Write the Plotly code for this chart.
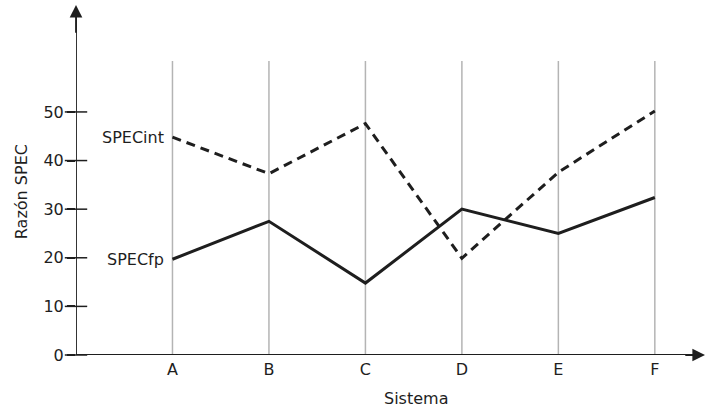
import plotly.graph_objects as go

sistemas = ["A", "B", "C", "D", "E", "F"]
specint = [44.8, 37.3, 47.6, 19.9, 37.6, 50.2]
specfp = [19.7, 27.5, 14.8, 30.0, 25.0, 32.4]
yticks = [0, 10, 20, 30, 40, 50]

xs = list(range(len(sistemas)))
FONT = "'DejaVu Sans', sans-serif"
INK = "#1e1e1e"
FS = 16
X_AXIS_POS = -1  # category-axis value where the vertical axis sits

fig = go.Figure()
fig.add_trace(go.Scatter(x=xs, y=specint, mode="lines",
                         line=dict(color=INK, width=3, dash="9px,6px"),
                         showlegend=False, hoverinfo="skip"))
fig.add_trace(go.Scatter(x=xs, y=specfp, mode="lines",
                         line=dict(color=INK, width=3),
                         showlegend=False, hoverinfo="skip"))
# tick marks crossing the vertical axis, one per y tick value
fig.add_trace(go.Scatter(x=[X_AXIS_POS] * len(yticks), y=yticks, mode="markers",
                         marker=dict(symbol="line-ew", size=16,
                                     line=dict(color=INK, width=1.5)),
                         cliponaxis=False, showlegend=False, hoverinfo="skip"))

# vertical grid lines per system
for xv in xs:
    fig.add_shape(type="line", x0=xv, x1=xv, y0=0, y1=60.5, xref="x", yref="y",
                  line=dict(color="#b4b4b4", width=1.5), layer="below")

# series labels
fig.add_annotation(x=0, y=specint[0], text="SPECint", showarrow=False,
                   xanchor="right", xshift=-6, font=dict(family=FONT, size=FS, color=INK))
fig.add_annotation(x=0, y=specfp[0], text="SPECfp", showarrow=False,
                   xanchor="right", xshift=-6, font=dict(family=FONT, size=FS, color=INK))

# axis arrows
fig.add_annotation(x=X_AXIS_POS, y=72, ax=X_AXIS_POS, ay=66, xref="x", yref="y",
                   axref="x", ayref="y", showarrow=True, arrowhead=2, arrowsize=1.4,
                   arrowwidth=1.8, arrowcolor=INK, text="")
fig.add_annotation(x=5.52, y=0, ax=5.3, ay=0, xref="x", yref="y", axref="x", ayref="y",
                   showarrow=True, arrowhead=2, arrowsize=1.4, arrowwidth=1.8,
                   arrowcolor=INK, text="")

# axis titles
fig.add_annotation(x=2.52, y=0, xref="x", yref="paper", yshift=-43,
                   text="Sistema", showarrow=False, yanchor="middle",
                   font=dict(family=FONT, size=FS, color=INK))
fig.add_annotation(x=0, xref="paper", xshift=-55, xanchor="center", y=33.5, yref="y",
                   yanchor="middle", text="Razón SPEC", textangle=-90, showarrow=False,
                   font=dict(family=FONT, size=FS, color=INK))

fig.update_layout(
    width=707, height=410,
    margin=dict(l=76, r=2, t=5, b=55, autoexpand=False),
    plot_bgcolor="white", paper_bgcolor="white",
    font=dict(family=FONT, size=FS, color=INK),
    xaxis=dict(range=[X_AXIS_POS, 5.52], tickvals=xs, ticktext=sistemas,
               showgrid=False, zeroline=False, showline=False, ticks="",
               ticklabelstandoff=3, automargin=False, fixedrange=True),
    yaxis=dict(range=[0, 72], tickvals=yticks, showgrid=False, zeroline=False,
               showline=False, ticks="outside", ticklen=8, tickwidth=1.5,
               tickcolor=INK, automargin=False, fixedrange=True),
)

# axis lines
fig.add_shape(type="line", x0=X_AXIS_POS, x1=X_AXIS_POS, y0=0, y1=70, xref="x", yref="y",
              line=dict(color=INK, width=1.8))
fig.add_shape(type="line", x0=X_AXIS_POS, x1=5.45, y0=0, y1=0, xref="x", yref="y",
              line=dict(color=INK, width=1.8))

fig.write_html("out.html", config={"displayModeBar": False},
               post_script="document.body.style.margin='0';document.body.style.overflow='hidden';")
